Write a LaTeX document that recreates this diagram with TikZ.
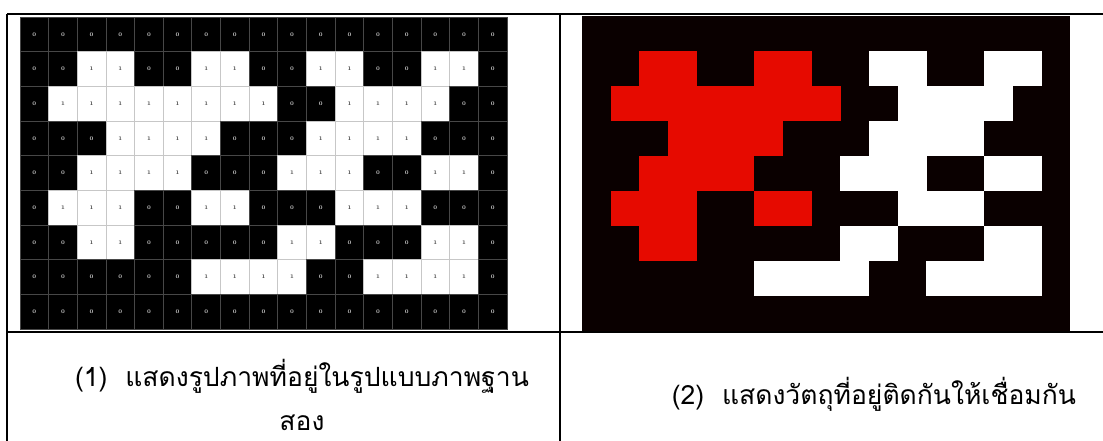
\documentclass[tikz,border=0pt]{standalone}
\usepackage{fontspec}
\newfontfamily\thaifont[Script=Thai]{Loma}
\definecolor{bgdark}{HTML}{0A0000}
\definecolor{objred}{HTML}{E60A00}
\tikzset{
  rule/.style={line width=2pt, black},
  caption/.style={font=\thaifont\fontsize{26.5}{30}\selectfont, inner sep=0pt, anchor=base},
  lbl/.style={font=\fontsize{5.5}{5.5}\selectfont\bfseries, inner sep=0pt},
}
% left binary grid: #1 row, #2 values
\newcommand\binrow[2]{%
  \foreach \v [count=\c from 0] in {#2} {%
    \pgfmathsetmacro\xa{20+\c*28.647}%
    \pgfmathsetmacro\ya{17+#1*34.667}%
    \ifnum\v=1
      \filldraw[fill=white, draw=black!22, line width=0.8pt] (\xa,\ya) rectangle ++(28.647,34.667);
      \node[lbl, text=black!80] at (\xa+14.32,\ya+17.33) {1};
    \else
      \filldraw[fill=black, draw=black!72, line width=0.8pt] (\xa,\ya) rectangle ++(28.647,34.667);
      \node[lbl, text=white!85!black] at (\xa+14.32,\ya+17.33) {0};
    \fi
  }}
% right labelled objects: 0 dark, 1 red, 2 white
\newcommand\objrow[2]{%
  \foreach \v [count=\c from 0] in {#2} {%
    \pgfmathsetmacro\xa{582+\c*28.706}%
    \pgfmathsetmacro\ya{16+#1*35}%
    \ifnum\v=1
      \fill[objred] (\xa,\ya) rectangle ++(28.9,35.2);
    \else\ifnum\v=2
      \fill[white] (\xa,\ya) rectangle ++(28.9,35.2);
    \fi\fi
  }}
\begin{document}
\begin{tikzpicture}[x=1pt,y=-1pt]
\useasboundingbox (0,0) rectangle (1103,441);
\fill[white] (0,0) rectangle (1103,441);
% left grid
\binrow{0}{0,0,0,0,0,0,0,0,0,0,0,0,0,0,0,0,0}
\binrow{1}{0,0,1,1,0,0,1,1,0,0,1,1,0,0,1,1,0}
\binrow{2}{0,1,1,1,1,1,1,1,1,0,0,1,1,1,1,0,0}
\binrow{3}{0,0,0,1,1,1,1,0,0,0,1,1,1,1,0,0,0}
\binrow{4}{0,0,1,1,1,1,0,0,0,1,1,1,0,0,1,1,0}
\binrow{5}{0,1,1,1,0,0,1,1,0,0,0,1,1,1,0,0,0}
\binrow{6}{0,0,1,1,0,0,0,0,0,1,1,0,0,0,1,1,0}
\binrow{7}{0,0,0,0,0,0,1,1,1,1,0,0,1,1,1,1,0}
\binrow{8}{0,0,0,0,0,0,0,0,0,0,0,0,0,0,0,0,0}
% right image
\fill[bgdark] (582,16) rectangle (1070,331);
\objrow{1}{0,0,1,1,0,0,1,1,0,0,2,2,0,0,2,2,0}
\objrow{2}{0,1,1,1,1,1,1,1,1,0,0,2,2,2,2,0,0}
\objrow{3}{0,0,0,1,1,1,1,0,0,0,2,2,2,2,0,0,0}
\objrow{4}{0,0,1,1,1,1,0,0,0,2,2,2,0,0,2,2,0}
\objrow{5}{0,1,1,1,0,0,1,1,0,0,0,2,2,2,0,0,0}
\objrow{6}{0,0,1,1,0,0,0,0,0,2,2,0,0,0,2,2,0}
\objrow{7}{0,0,0,0,0,0,2,2,2,2,0,0,2,2,2,2,0}
% table rules
\coordinate (tl) at (7,14);
\coordinate (tr) at (1103,14);
\coordinate (bl) at (7,441);
\coordinate (mt) at (560,14);
\coordinate (mb) at (560,441);
\coordinate (hl) at (7,332);
\coordinate (hr) at (1103,332);
\draw[rule] (tl) -- (tr);
\draw[rule] (tl) -- (bl);
\draw[rule] (mt) -- (mb);
\draw[rule] (hl) -- (hr);
% captions
\node[caption] (c1a) at (302,386) {(1)\ \ แสดงรูปภาพที่อยู่ในรูปแบบภาพฐาน};
\node[caption] (c1b) at (302,430) {สอง};
\node[caption] (c2) at (874,404) {(2)\ \ แสดงวัตถุที่อยู่ติดกันให้เชื่อมกัน};
\end{tikzpicture}
\end{document}
